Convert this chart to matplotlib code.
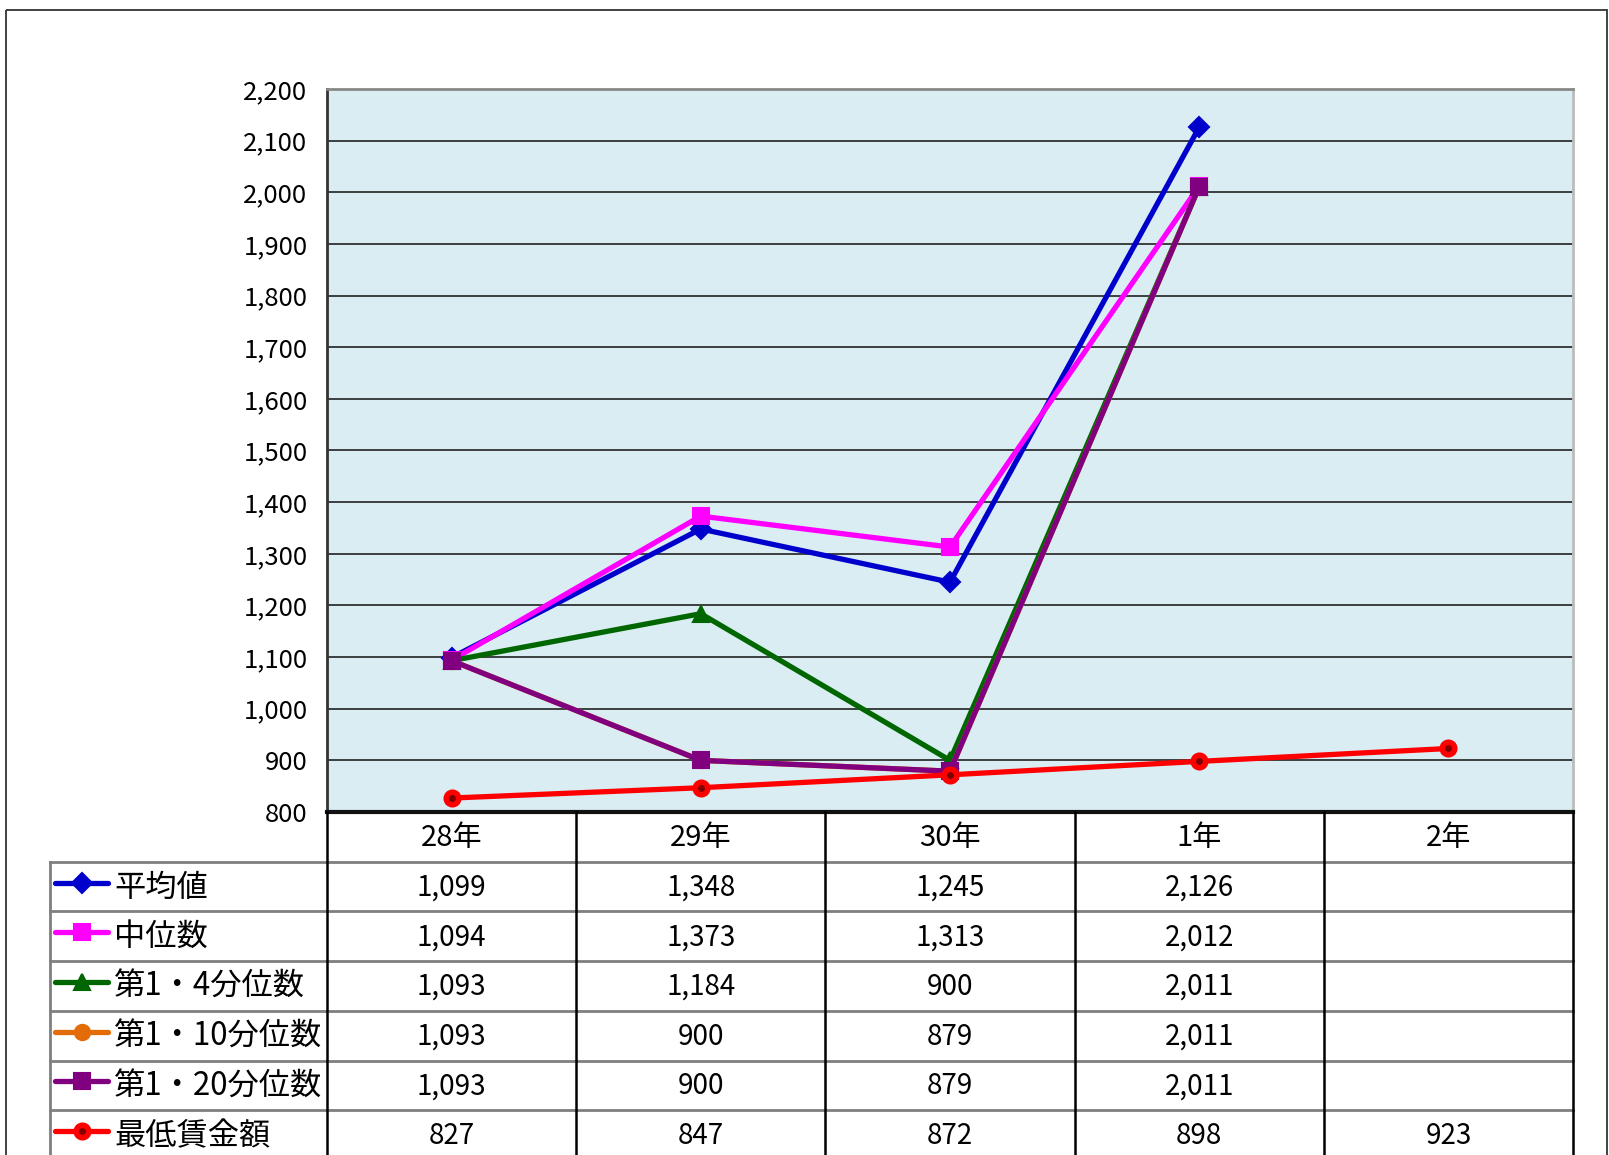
import matplotlib
matplotlib.use("Agg")
import matplotlib.pyplot as plt
from matplotlib.lines import Line2D
from matplotlib.patches import Rectangle
from matplotlib.transforms import blended_transform_factory
import numpy as np

plt.rcParams['font.family'] = ['Noto Sans CJK JP', 'DejaVu Sans']

# ---------------- data ----------------
categories = ["28年", "29年", "30年", "1年", "2年"]
series_names = ["平均値", "中位数", "第1・4分位数", "第1・10分位数", "第1・20分位数", "最低賃金額"]
mean_vals = [1099, 1348, 1245, 2126, None]
median_vals = [1094, 1373, 1313, 2012, None]
q4_vals = [1093, 1184, 900, 2011, None]
q10_vals = [1093, 900, 879, 2011, None]
q20_vals = [1093, 900, 879, 2011, None]
minwage_vals = [827, 847, 872, 898, 923]
y_ticks = list(range(800, 2201, 100))

all_series = [mean_vals, median_vals, q4_vals, q10_vals, q20_vals, minwage_vals]
styles = [
    dict(color="#0000CC", marker="D", ms=10, mfc="#0000CC", mec="#0000CC", mew=1.5),
    dict(color="#FF00FF", marker="s", ms=11, mfc="#FF00FF", mec="#FF00FF", mew=1.5),
    dict(color="#006600", marker="^", ms=12, mfc="#006600", mec="#006600", mew=1.5),
    dict(color="#E36C09", marker="o", ms=11, mfc="#E36C09", mec="#E36C09", mew=1.5),
    dict(color="#800080", marker="s", ms=11, mfc="#800080", mec="#800080", mew=1.5),
    dict(color="#FF0000", marker="o", ms=9, mfc="#800000", mec="#FF0000", mew=4),
]

W, H = 1609, 1155
fig = plt.figure(figsize=(W / 100, H / 100), dpi=100)

def fx(x):
    return x / W

def fy(y):
    return 1 - y / H

# plot area pixel bounds
L, R, T, B = 327, 1573, 89, 812
ax = fig.add_axes([fx(L), fy(B), fx(R) - fx(L), (B - T) / H])
ax.set_facecolor("#DAEDF3")
ax.set_xlim(-0.5, len(categories) - 0.5)
ax.set_ylim(800, 2200)
ax.set_yticks(y_ticks)
ax.set_yticklabels([f"{v:,}" for v in y_ticks], fontsize=18.5)
ax.set_xticks([])
ax.tick_params(axis="y", length=0, pad=14)
for v in y_ticks[1:-1]:
    ax.axhline(v, color="#222222", lw=1.2, zorder=1)
ax.spines["top"].set_color("#888888")
ax.spines["top"].set_linewidth(2)
ax.spines["right"].set_color("#BBBBBB")
ax.spines["right"].set_linewidth(2)
ax.spines["left"].set_color("#333333")
ax.spines["left"].set_linewidth(2)
ax.spines["bottom"].set_color("#111111")
ax.spines["bottom"].set_linewidth(3)

x = np.arange(len(categories))
for vals, st in zip(all_series, styles):
    xs = [xi for xi, v in zip(x, vals) if v is not None]
    ys = [v for v in vals if v is not None]
    ax.plot(xs, ys, lw=3.8, solid_joinstyle="round", zorder=3, **st)

# overlay axes in pixel coordinates
fa = fig.add_axes([0, 0, 1, 1], facecolor="none")
fa.set_xlim(0, W)
fa.set_ylim(H, 0)
fa.axis("off")

# outer border
fa.add_patch(Rectangle((6, 10), 1601, 1160, fill=False, ec="#333333", lw=1.3, clip_on=False))

trans = blended_transform_factory(ax.transData, fa.transData)

row_h = 49.7
rows_y = [B + i * row_h for i in range(len(series_names) + 2)]
ncol = len(categories)

# horizontal lines
fa.plot([L, R], [rows_y[1], rows_y[1]], color="#7F7F7F", lw=2)
fa.plot([50, L], [rows_y[1], rows_y[1]], color="#7F7F7F", lw=2)
for yy in rows_y[2:]:
    fa.plot([50, R], [yy, yy], color="#7F7F7F", lw=2)
# vertical lines
fa.plot([50, 50], [rows_y[1], H + 5], color="#7F7F7F", lw=2)
for i in range(ncol + 1):
    xx = i - 0.5
    ax_line = Line2D([xx, xx], [B, H + 5], transform=trans, color="#000000", lw=1.8)
    fa.add_line(ax_line)

# header
for i, c in enumerate(categories):
    fa.text(i, (rows_y[0] + rows_y[1]) / 2 + 1, c, transform=trans, ha="center", va="center", fontsize=21)

# rows
for r, (name, vals, st) in enumerate(zip(series_names, all_series, styles)):
    yc = (rows_y[r + 1] + rows_y[r + 2]) / 2
    fa.add_line(Line2D([55, 108], [yc - 4, yc - 4], lw=3.8, solid_capstyle="round", color=st["color"]))
    fa.add_line(Line2D([82], [yc - 4], marker=st["marker"], ms=st["ms"], mfc=st["mfc"], mec=st["mec"], mew=st["mew"], ls="none"))
    fa.text(114, yc + 1, name, ha="left", va="center", fontsize=22.5)
    for i, v in enumerate(vals):
        if v is not None:
            fa.text(i, yc + 1, f"{v:,}", transform=trans, ha="center", va="center", fontsize=20)

fig.savefig("out.png", dpi=100)
